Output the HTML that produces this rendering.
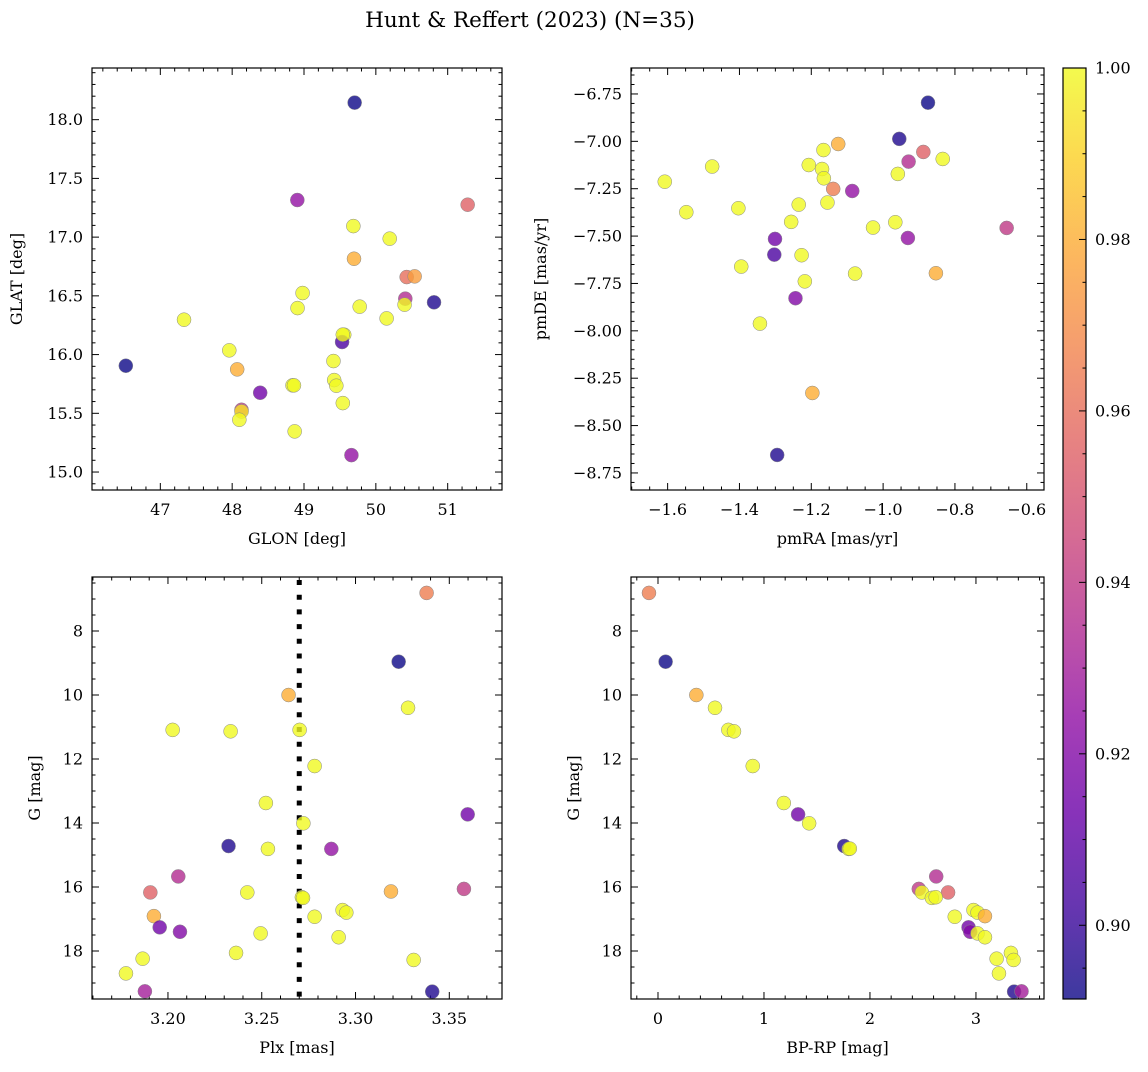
<!DOCTYPE html>
<html><head><meta charset="utf-8"><style>
body{margin:0;background:#fff;}
svg text{font-family:"DejaVu Serif","Liberation Serif",serif;fill:#000;}
</style></head><body>
<svg id="fig" width="1148" height="1067" viewBox="0 0 1148 1067" xmlns="http://www.w3.org/2000/svg">
<defs>
<linearGradient id="plasma" x1="0" y1="1" x2="0" y2="0">
<stop offset="0" stop-color="#0d0887"/><stop offset="0.1" stop-color="#41049d"/><stop offset="0.2" stop-color="#6a00a8"/><stop offset="0.3" stop-color="#8f0da4"/><stop offset="0.4" stop-color="#b12a90"/><stop offset="0.5" stop-color="#cc4778"/><stop offset="0.6" stop-color="#e16462"/><stop offset="0.7" stop-color="#f2844b"/><stop offset="0.8" stop-color="#fca636"/><stop offset="0.9" stop-color="#fcce25"/><stop offset="1" stop-color="#f0f921"/>
</linearGradient>
</defs>
<text x="530" y="27" font-size="21.5" text-anchor="middle">Hunt &amp; Reffert (2023) (N=35)</text>
</svg>
<script>
// ---- data ----
const glon = [49.705,46.52,48.907,51.278,49.687,50.193,49.696,50.429,50.54,48.98,50.41,50.40,50.81,48.91,49.775,47.33,50.15,49.56,49.53,49.54,47.96,48.07,49.41,49.42,49.45,48.84,48.86,48.39,48.13,48.13,48.10,49.54,48.87,49.66];
const glat = [18.145,15.905,17.316,17.276,17.094,16.987,16.816,16.66,16.666,16.524,16.476,16.425,16.445,16.396,16.408,16.297,16.308,16.169,16.107,16.17,16.036,15.874,15.945,15.783,15.735,15.738,15.738,15.675,15.53,15.516,15.445,15.587,15.346,15.144];
const probPos = [0.89,0.89,0.925,0.955,1,1,0.98,0.96,0.975,1,0.935,1,0.895,1,1,1,1,1,0.905,1,1,0.98,1,1,1,1,1,0.915,0.94,0.995,1,1,1,0.925];

const pmra = [-0.875,-0.955,-1.125,-0.888,-1.166,-0.929,-0.834,-1.207,-1.476,-0.959,-1.608,-1.17,-1.165,-1.139,-1.086,-1.548,-1.235,-1.155,-1.403,-1.256,-0.966,-1.028,-0.656,-1.301,-0.931,-1.227,-1.303,-1.395,-1.078,-0.853,-1.218,-1.244,-1.343,-1.197,-1.295];
const pmde = [-6.796,-6.987,-7.014,-7.056,-7.046,-7.107,-7.093,-7.125,-7.133,-7.172,-7.213,-7.146,-7.195,-7.251,-7.262,-7.374,-7.334,-7.323,-7.353,-7.425,-7.427,-7.455,-7.457,-7.515,-7.51,-7.601,-7.598,-7.661,-7.698,-7.696,-7.739,-7.828,-7.962,-8.328,-8.655];
const probPm = [0.89,0.895,0.98,0.955,1,0.935,1,1,1,1,1,1,1,0.965,0.925,1,1,1,1,1,1,1,0.94,0.915,0.925,1,0.905,1,1,0.98,1,0.92,1,0.98,0.895];

const plx = [3.3379,3.323,3.2643,3.328,3.2025,3.2334,3.2702,3.2782,3.2522,3.2722,3.3598,3.2323,3.2533,3.2871,3.2055,3.1906,3.2423,3.2714,3.272,3.3189,3.3578,3.1925,3.2931,3.2951,3.2782,3.1956,3.2064,3.2494,3.291,3.1865,3.2363,3.331,3.1776,3.1877,3.3409];
const gPlx = [6.81,8.96,10.0,10.40,11.09,11.135,11.09,12.22,13.375,14.01,13.73,14.72,14.81,14.81,15.67,16.17,16.17,16.32,16.34,16.14,16.06,16.91,16.72,16.80,16.93,17.26,17.40,17.45,17.57,18.24,18.06,18.28,18.70,19.26,19.27];
const probPlx = [0.965,0.89,0.98,1,1,1,1,1,1,1,0.915,0.895,1,0.925,0.935,0.955,1,1,1,0.98,0.94,0.98,1,1,1,0.915,0.92,1,1,1,1,1,1,0.93,0.895];
const plxMean = [3.27];

const bprp = [-0.085,0.072,0.362,0.538,0.664,0.717,0.894,1.187,1.322,1.426,1.757,1.80,1.81,2.625,2.461,2.49,2.737,2.584,2.62,2.80,2.977,3.015,3.085,2.93,2.946,3.015,3.085,3.33,3.195,3.355,3.217,3.36,3.43];
const gCmd = [6.81,8.96,10.0,10.40,11.09,11.135,12.22,13.375,13.73,14.01,14.72,14.81,14.80,15.67,16.06,16.17,16.17,16.34,16.32,16.93,16.72,16.80,16.91,17.26,17.40,17.45,17.57,18.06,18.24,18.28,18.70,19.27,19.26];
const probCmd = [0.965,0.89,0.98,1,1,1,1,1,0.915,1,0.895,1,1,0.935,0.94,1,0.955,1,1,1,1,1,0.98,0.915,0.92,1,1,1,1,1,1,0.895,0.93];

const tlXTicks = [47,48,49,50,51];
const tlYTicks = [15.0,15.5,16.0,16.5,17.0,17.5,18.0];
const trXTicks = [-1.6,-1.4,-1.2,-1.0,-0.8,-0.6];
const trYTicks = [-8.75,-8.5,-8.25,-8.0,-7.75,-7.5,-7.25,-7.0,-6.75];
const blXTicks = [3.20,3.25,3.30,3.35];
const gTicks = [8,10,12,14,16,18];
const brXTicks = [0,1,2,3];
const cbTicks = [0.90,0.92,0.94,0.96,0.98,1.00];
const cbMin = 0.8914, cbMax = 1.0;

// ---- rendering ----
const NS = "http://www.w3.org/2000/svg";
const svg = document.getElementById('fig');
function mk(tag, attrs, parent){const e=document.createElementNS(NS,tag);for(const k in attrs)e.setAttribute(k,attrs[k]);(parent||svg).appendChild(e);return e;}
const stops=["#0d0887","#41049d","#6a00a8","#8f0da4","#b12a90","#cc4778","#e16462","#f2844b","#fca636","#fcce25","#f0f921"];
function hex(h){return [parseInt(h.substr(1,2),16),parseInt(h.substr(3,2),16),parseInt(h.substr(5,2),16)];}
function plasma(v){let t=(v-cbMin)/(cbMax-cbMin);t=Math.max(0,Math.min(1,t));const f=t*10,i=Math.min(9,Math.floor(f)),r=f-i;const a=hex(stops[i]),b=hex(stops[i+1]);return `rgb(${a.map((c,k)=>Math.round(c+(b[k]-c)*r)).join(',')})`;}
function fmt(v,d){return (v<0?'\u2212':'')+Math.abs(v).toFixed(d);}

function panel(p){
  const sx=v=>p.x0+(v-p.xmin)/(p.xmax-p.xmin)*(p.x1-p.x0);
  const sy=p.invert?(v=>p.y0+(v-p.ymin)/(p.ymax-p.ymin)*(p.y1-p.y0)):(v=>p.y1-(v-p.ymin)/(p.ymax-p.ymin)*(p.y1-p.y0));
  const g=mk('g',{});
  
  
  const tk=mk('g',{stroke:'#000','stroke-width':1},g);
  
  
  const xs=p.xt[1]-p.xt[0], ys=p.yt[1]-p.yt[0];
  for(let v=p.xt[0]-xs*2; v<=p.xmax+1e-9; v+=xs/p.xsub){ if(v<p.xmin-1e-9)continue; const X=sx(v); const maj=Math.abs(((v-p.xt[0])/xs)-Math.round((v-p.xt[0])/xs))<1e-6; const L=maj?7:3.5;
    mk('line',{x1:X,x2:X,y1:p.y1,y2:p.y1-L},tk); mk('line',{x1:X,x2:X,y1:p.y0,y2:p.y0+L},tk);}
  for(let v=p.yt[0]-ys*2; v<=Math.max(p.ymax,p.ymin)+1e-9; v+=ys/p.ysub){ if(v<Math.min(p.ymin,p.ymax)-1e-9)continue; const Y=sy(v); const maj=Math.abs(((v-p.yt[0])/ys)-Math.round((v-p.yt[0])/ys))<1e-6; const L=maj?7:3.5;
    mk('line',{x1:p.x0,x2:p.x0+L,y1:Y,y2:Y},tk); mk('line',{x1:p.x1,x2:p.x1-L,y1:Y,y2:Y},tk);}
  p.xt.forEach(v=>{const t=mk('text',{x:sx(v),y:p.y1+25,'font-size':16,'text-anchor':'middle'},g);t.textContent=fmt(v,p.xd);
    
    });
  p.yt.forEach(v=>{const t=mk('text',{x:p.x0-9,y:sy(v)+5.5,'font-size':16,'text-anchor':'end'},g);t.textContent=fmt(v,p.yd);
    
    });
  const xl=mk('text',{x:(p.x0+p.x1)/2,y:p.y1+54,'font-size':16,'text-anchor':'middle'},g);xl.textContent=p.xlabel;
  
  
  const yl=mk('text',{x:0,y:0,'font-size':16,'text-anchor':'middle',transform:`translate(${p.ylx},${(p.y0+p.y1)/2}) rotate(-90)`},g);yl.textContent=p.ylabel;
  
  
  if(p.vline){p.vline.forEach(v=>{const l=mk('line',{x1:sx(v),x2:sx(v),y1:p.y0+3,y2:p.y1,stroke:'#000','stroke-width':5,'stroke-dasharray':'5 9.7'},g);
    
    });}
  p.xs.forEach((v,i)=>{const c=mk('circle',{cx:sx(v),cy:sy(p.ys[i]),r:7,fill:plasma(p.c[i]),'fill-opacity':0.8,stroke:'#888','stroke-width':0.5},g);
    
    });
  const fr=mk('rect',{x:p.x0,y:p.y0,width:p.x1-p.x0,height:p.y1-p.y0,fill:'none',stroke:'#000','stroke-width':1.2},g);
  
  
}

panel({name:'position-panel',x0:92,x1:502,y0:68,y1:490,xmin:46.049,xmax:51.756,ymin:14.847,ymax:18.44,xt:tlXTicks,yt:tlYTicks,xsub:5,ysub:5,xd:0,yd:1,xlabel:'GLON [deg]',ylabel:'GLAT [deg]',ylx:22,xs:glon,ys:glat,c:probPos});
panel({name:'proper-motion-panel',x0:631,x1:1044,y0:68,y1:490,xmin:-1.702,xmax:-0.552,ymin:-8.84,ymax:-6.613,xt:trXTicks,yt:trYTicks,xsub:4,ysub:5,xd:1,yd:2,xlabel:'pmRA [mas/yr]',ylabel:'pmDE [mas/yr]',ylx:546,xs:pmra,ys:pmde,c:probPm});
panel({name:'parallax-panel',x0:92,x1:502,y0:577,y1:999,xmin:3.1595,xmax:3.3781,ymin:6.3125,ymax:19.5,invert:true,xt:blXTicks,yt:gTicks,xsub:5,ysub:4,xd:2,yd:0,xlabel:'Plx [mas]',ylabel:'G [mag]',ylx:40,xs:plx,ys:gPlx,c:probPlx,vline:plxMean});
panel({name:'cmd-panel',x0:631,x1:1044,y0:577,y1:999,xmin:-0.2546,xmax:3.642,ymin:6.3125,ymax:19.5,invert:true,xt:brXTicks,yt:gTicks,xsub:5,ysub:4,xd:0,yd:0,xlabel:'BP-RP [mag]',ylabel:'G [mag]',ylx:579,xs:bprp,ys:gCmd,c:probCmd});

// colorbar
const cb=mk('g',{});


const cy=v=>999-(v-cbMin)/(cbMax-cbMin)*(999-68);
mk('rect',{x:1063,y:68,width:23,height:931,fill:'url(#plasma)','fill-opacity':0.8},cb);
mk('rect',{x:1063,y:68,width:23,height:931,fill:'none',stroke:'#000','stroke-width':1.2},cb);
for(let v=0.895; v<=1.0001; v+=0.005){const Y=cy(v);const maj=Math.abs(v*50-Math.round(v*50))<1e-6;mk('line',{x1:1086,x2:maj?1079:1082.5,y1:Y,y2:Y,stroke:'#000','stroke-width':1},cb);}
cbTicks.forEach(v=>{const t=mk('text',{x:1095,y:cy(v)+5.5,'font-size':16},cb);t.textContent=v.toFixed(2);
  
  });
</script>
</body></html>
